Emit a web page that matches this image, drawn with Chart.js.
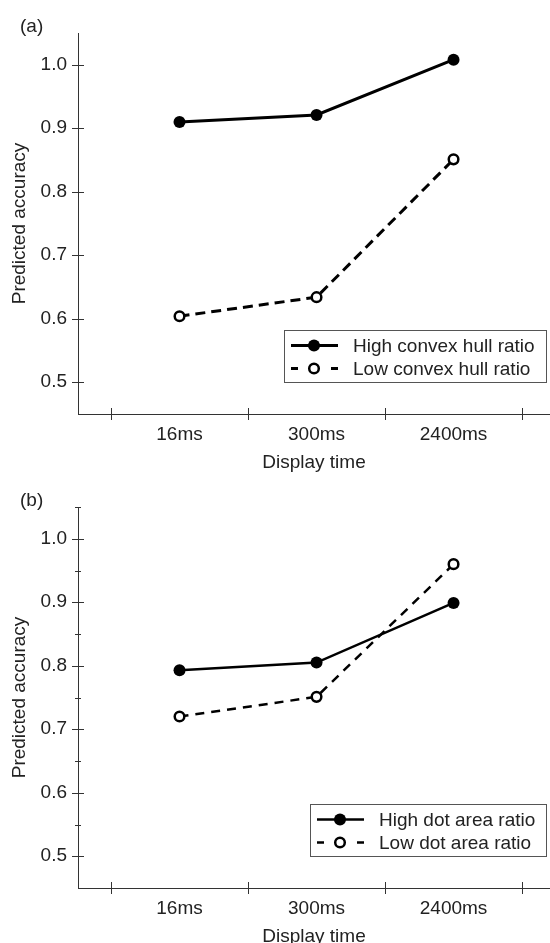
<!DOCTYPE html>
<html>
<head>
<meta charset="utf-8">
<script src="https://cdn.jsdelivr.net/npm/chart.js@4.4.1/dist/chart.umd.min.js"></script>
<style>
  html, body { margin: 0; padding: 0; background: #fff; overflow: hidden; }
  .panel { position: absolute; left: 0; width: 550px; height: 474px; }
  .panel canvas { display: block; }
  .tag { position: absolute; left: 20px; top: 15px; font: 19px "Liberation Sans", Arial, sans-serif; color: #222; }
</style>
</head>
<body>
<div class="panel" style="top:0"><canvas id="chartA" width="550" height="474"></canvas><div class="tag">(a)</div></div>
<div class="panel" style="top:474px"><canvas id="chartB" width="550" height="474"></canvas><div class="tag">(b)</div></div>
<script>
// datos
var categories = ['16ms', '300ms', '2400ms'];
var yTicks = [0.5, 0.6, 0.7, 0.8, 0.9, 1.0];
var yMinorB = [0.55, 0.65, 0.75, 0.85, 0.95, 1.05];

var highHull = [0.910, 0.921, 1.008];
var lowHull = [0.604, 0.634, 0.851];
var highDot = [0.793, 0.805, 0.899];
var lowDot = [0.720, 0.751, 0.960];

var FONT = '"Liberation Sans", Arial, sans-serif';
var INK = '#222';

function toPoints(arr) {
    return arr.map(function(v, i) { return { x: i, y: v }; });
}

// marcas de eje que cruzan la linea
var crossTicks = {
    id: 'crossTicks',
    afterDraw: function(chart, args, opts) {
        var ctx = chart.ctx, area = chart.chartArea;
        var xs = chart.scales.x, ys = chart.scales.y;
        ctx.save();
        ctx.strokeStyle = '#333';
        ctx.lineWidth = 1;
        ctx.beginPath();
        ys.ticks.forEach(function(t) {
            var p = Math.round(ys.getPixelForValue(t.value)) + 0.5;
            ctx.moveTo(area.left - 6, p); ctx.lineTo(area.left + 6, p);
        });
        (opts.minor || []).forEach(function(v) {
            var p = Math.round(ys.getPixelForValue(v)) + 0.5;
            ctx.moveTo(area.left - 3, p); ctx.lineTo(area.left + 3, p);
        });
        for (var i = 0; i <= categories.length; i++) {
            var px = Math.round(xs.getPixelForValue(i - 0.5)) + 0.5;
            ctx.moveTo(px, area.bottom - 6); ctx.lineTo(px, area.bottom + 6);
        }
        ctx.stroke();
        ctx.restore();
    }
};

// leyenda con caja dentro del area
var boxLegend = {
    id: 'boxLegend',
    afterDraw: function(chart) {
        var ctx = chart.ctx, area = chart.chartArea;
        var sets = chart.data.datasets;
        ctx.save();
        ctx.font = '19px ' + FONT;
        var w = 0;
        sets.forEach(function(d) { w = Math.max(w, ctx.measureText(d.label).width); });
        var boxW = Math.round(69 + w + 11), boxH = 52;
        var left = Math.round(area.right - 4 - boxW), top = Math.round(area.bottom - 32 - boxH);
        ctx.fillStyle = '#fff';
        ctx.fillRect(left, top, boxW, boxH);
        ctx.strokeStyle = '#555';
        ctx.lineWidth = 1;
        ctx.strokeRect(left + 0.5, top + 0.5, boxW, boxH);
        sets.forEach(function(d, i) {
            var cy = top + 15.5 + i * 23;
            ctx.strokeStyle = '#000';
            ctx.lineWidth = d.borderWidth;
            ctx.setLineDash(d.borderDash && d.borderDash.length ? [7, 33] : []);
            ctx.beginPath(); ctx.moveTo(left + 7, cy); ctx.lineTo(left + 54, cy); ctx.stroke();
            ctx.setLineDash([]);
            ctx.beginPath(); ctx.arc(left + 30, cy, d.pointRadius, 0, Math.PI * 2);
            ctx.fillStyle = d.pointBackgroundColor; ctx.fill();
            if (d.pointBorderWidth) {
                ctx.lineWidth = d.pointBorderWidth; ctx.strokeStyle = d.pointBorderColor; ctx.stroke();
            }
            ctx.fillStyle = INK;
            ctx.textBaseline = 'middle';
            ctx.fillText(d.label, left + 69, cy + 1);
        });
        ctx.restore();
    }
};

function makeChart(id, highLabel, lowLabel, highData, lowData, lw, dash, minor) {
    var ctx = document.getElementById(id);
    return new Chart(ctx, {
        type: 'line',
        data: {
            datasets: [{
                label: highLabel,
                data: toPoints(highData),
                borderColor: '#000',
                borderWidth: lw,
                pointRadius: 6,
                pointBackgroundColor: '#000',
                pointBorderColor: '#000',
                pointBorderWidth: 0,
                tension: 0
            }, {
                label: lowLabel,
                data: toPoints(lowData),
                borderColor: '#000',
                borderWidth: lw,
                borderDash: dash,
                pointRadius: 4.8,
                pointBackgroundColor: '#fff',
                pointBorderColor: '#000',
                pointBorderWidth: 2.5,
                tension: 0
            }]
        },
        options: {
            responsive: false,
            animation: false,
            layout: { autoPadding: false, padding: { top: 33, right: 0, left: 0, bottom: 0 } },
            plugins: {
                legend: { display: false },
                tooltip: { enabled: false },
                crossTicks: { minor: minor }
            },
            scales: {
                x: {
                    type: 'linear',
                    min: -0.741,
                    max: 2.704,
                    afterBuildTicks: function(scale) {
                        scale.ticks = categories.map(function(c, i) { return { value: i }; });
                    },
                    afterFit: function(scale) {
                        scale.height = 60;
                        scale.paddingLeft = 0;
                        scale.paddingRight = 0;
                    },
                    grid: { drawOnChartArea: false, drawTicks: false },
                    border: { display: true, color: '#333', width: 1 },
                    ticks: {
                        autoSkip: false,
                        maxRotation: 0,
                        padding: 9,
                        color: INK,
                        font: { family: FONT, size: 19 },
                        callback: function(v) { return categories[v]; }
                    },
                    title: {
                        display: true,
                        text: 'Display time',
                        color: INK,
                        font: { family: FONT, size: 19 },
                        padding: { top: 0, bottom: 0 }
                    }
                },
                y: {
                    min: 0.45,
                    max: 1.05,
                    afterBuildTicks: function(scale) {
                        scale.ticks = yTicks.map(function(v) { return { value: v }; });
                    },
                    afterFit: function(scale) {
                        scale.width = 78;
                        scale.paddingTop = 0;
                        scale.paddingBottom = 0;
                    },
                    grid: { drawOnChartArea: false, drawTicks: false },
                    border: { display: true, color: '#333', width: 1 },
                    ticks: {
                        padding: 11,
                        color: INK,
                        font: { family: FONT, size: 19 },
                        callback: function(v) { return v.toFixed(1); }
                    },
                    title: {
                        display: true,
                        text: 'Predicted accuracy',
                        color: INK,
                        font: { family: FONT, size: 19 },
                        padding: { top: 8, bottom: 0 }
                    }
                }
            }
        },
        plugins: [crossTicks, boxLegend]
    });
}

makeChart('chartA', 'High convex hull ratio', 'Low convex hull ratio', highHull, lowHull, 3, [10, 6], []);
makeChart('chartB', 'High dot area ratio', 'Low dot area ratio', highDot, lowDot, 2.5, [9, 7], yMinorB);
</script>
</body>
</html>
